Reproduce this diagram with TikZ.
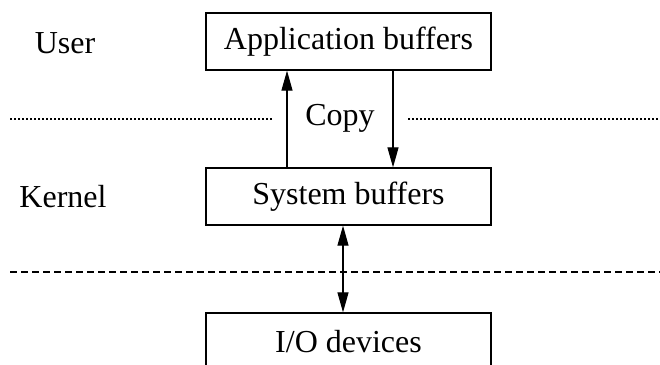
\documentclass[tikz,border=0pt]{standalone}
\usepackage{fontspec}
\setmainfont{Liberation Serif}
\usetikzlibrary{arrows.meta}
\begin{document}
\begin{tikzpicture}[x=1pt,y=-1pt,
  every node/.style={font=\fontsize{32}{38}\selectfont, inner sep=0pt},
  buf/.style={draw, line width=1.3pt, minimum width=285pt, minimum height=57pt},
  tip/.tip={Triangle[length=20pt,width=11pt]},
  arr/.style={line width=1.2pt, -tip},
  darr/.style={line width=1.2pt, tip-tip},
  sepdot/.style={line width=1.2pt, dash pattern=on 1.6pt off 2.4pt},
  sepdash/.style={line width=1.2pt, dash pattern=on 7pt off 4pt}]
  \clip (0,0) rectangle (660,364);
  \useasboundingbox (0,0) rectangle (660,364);

  % buffers and device
  \node[buf] (app) at (348.5,41.5) {Application buffers};
  \node[buf] (sys) at (348.5,196.5) {System buffers};
  \node[buf] (io)  at (348.5,341.5) {I/O devices};

  % side labels
  \node (user)   at (65,43)  {User};
  \node (kernel) at (63,197) {Kernel};
  \node (copy)   at (340,118) {Copy};

  % user/kernel boundary (dotted) and kernel/device boundary (dashed)
  \coordinate (d1) at (10,119);
  \coordinate (d2) at (273,119);
  \coordinate (d3) at (408,119);
  \coordinate (d4) at (660,119);
  \draw[sepdot] (d1) -- (d2);
  \draw[sepdot] (d3) -- (d4);
  \coordinate (e1) at (10,272);
  \coordinate (e2) at (660,272);
  \draw[sepdash] (e1) -- (e2);

  % copy arrows between user and kernel buffers
  \draw[arr] ([xshift=-61.5pt]sys.north) -- ([xshift=-61.5pt]app.south);
  \draw[arr] ([xshift=44.5pt]app.south) -- ([xshift=44.5pt]sys.north);

  % transfer between kernel buffers and devices
  \draw[darr] ([xshift=-5.5pt]sys.south) -- ([xshift=-5.5pt]io.north);
\end{tikzpicture}
\end{document}
